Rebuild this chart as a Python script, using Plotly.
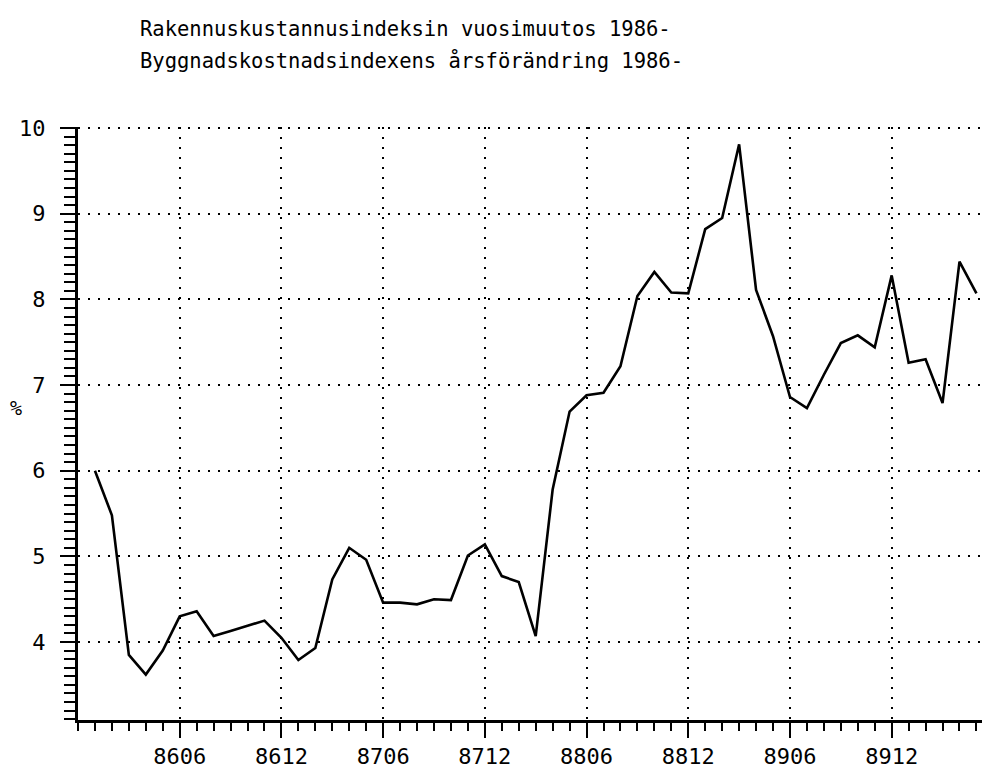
import plotly.graph_objects as go

months = [
    "8601", "8602", "8603", "8604", "8605", "8606", "8607", "8608", "8609", "8610", "8611", "8612",
    "8701", "8702", "8703", "8704", "8705", "8706", "8707", "8708", "8709", "8710", "8711", "8712",
    "8801", "8802", "8803", "8804", "8805", "8806", "8807", "8808", "8809", "8810", "8811", "8812",
    "8901", "8902", "8903", "8904", "8905", "8906", "8907", "8908", "8909", "8910", "8911", "8912",
    "9001", "9002", "9003", "9004", "9005",
]
change_pct = [
    6.00, 5.48, 3.85, 3.62, 3.90, 4.30, 4.36, 4.07, 4.13, 4.19, 4.25, 4.05,
    3.79, 3.93, 4.73, 5.10, 4.96, 4.46, 4.46, 4.44, 4.50, 4.49, 5.01, 5.14,
    4.77, 4.70, 4.07, 5.78, 6.69, 6.88, 6.91, 7.22, 8.04, 8.32, 8.08, 8.07,
    8.82, 8.95, 9.81, 8.11, 7.57, 6.86, 6.73, 7.12, 7.49, 7.58, 7.44, 8.28,
    7.26, 7.30, 6.79, 8.44, 8.07,
]
x_tick_labels = ["8606", "8612", "8706", "8712", "8806", "8812", "8906", "8912"]
y_tick_values = [4, 5, 6, 7, 8, 9, 10]

# month positions: index 0 = 8512 (axis origin), data start at 1
x_pos = list(range(1, len(months) + 1))
x_tick_pos = [months.index(m) + 1 for m in x_tick_labels]

MONO = "DejaVu Sans Mono"

fig = go.Figure()
fig.add_trace(go.Scatter(
    x=x_pos, y=change_pct, mode="lines",
    line=dict(color="black", width=2.6),
    hoverinfo="skip", showlegend=False, cliponaxis=False,
))

# page body has an 8px margin, so the figure is 8px smaller and shifted
W, H = 982, 760
L, R, T, B = 70, 0, 119, 48
ph = H - T - B

fig.update_layout(
    width=W, height=H,
    margin=dict(l=L, r=R, t=T, b=B, autoexpand=False),
    paper_bgcolor="white", plot_bgcolor="white",
    showlegend=False,
    font=dict(family=MONO, color="black"),
)

fig.update_xaxes(
    range=[0, 53.8], automargin=False,
    tickmode="array", tickvals=x_tick_pos, ticktext=x_tick_labels,
    ticks="outside", ticklen=15, tickwidth=2, tickcolor="black",
    tickfont=dict(family=MONO, size=22, color="black"),
    ticklabelstandoff=0,
    showline=True, linecolor="black", linewidth=3,
    showgrid=True, gridcolor="black", gridwidth=2, griddash="2px,8px",
    minor=dict(dtick=1, tick0=0, ticks="outside", ticklen=8, tickwidth=2,
               tickcolor="black", showgrid=False),
    zeroline=False, fixedrange=True,
)
fig.update_yaxes(
    range=[3.09, 10.012], automargin=False,
    tickmode="array", tickvals=y_tick_values,
    ticktext=[str(v) for v in y_tick_values],
    ticks="outside", ticklen=15, tickwidth=2, tickcolor="black",
    tickfont=dict(family=MONO, size=22, color="black"),
    ticklabelstandoff=10,
    showline=True, linecolor="black", linewidth=3,
    showgrid=True, gridcolor="black", gridwidth=2, griddash="2px,8px",
    minor=dict(dtick=0.1, tick0=0, ticks="outside", ticklen=11, tickwidth=2,
               tickcolor="black", showgrid=False),
    zeroline=False, fixedrange=True,
)

def py(ypx):
    return 1 + (T - ypx) / ph

def pxx(xpx):
    return (xpx - L) / (W - L - R)

fig.add_annotation(
    text="Rakennuskustannusindeksin vuosimuutos 1986-",
    xref="paper", yref="paper", x=pxx(130), y=py(21),
    xanchor="left", yanchor="middle", showarrow=False,
    font=dict(family=MONO, size=20.5, color="black"),
)
fig.add_annotation(
    text="Byggnadskostnadsindexens årsförändring 1986-",
    xref="paper", yref="paper", x=pxx(130), y=py(53),
    xanchor="left", yanchor="middle", showarrow=False,
    font=dict(family=MONO, size=20.5, color="black"),
)
fig.add_annotation(
    text="%",
    xref="paper", yref="paper", x=pxx(8), y=py(400),
    xanchor="center", yanchor="middle", showarrow=False,
    font=dict(family=MONO, size=20, color="black"),
)

fig.write_html("out.html")
